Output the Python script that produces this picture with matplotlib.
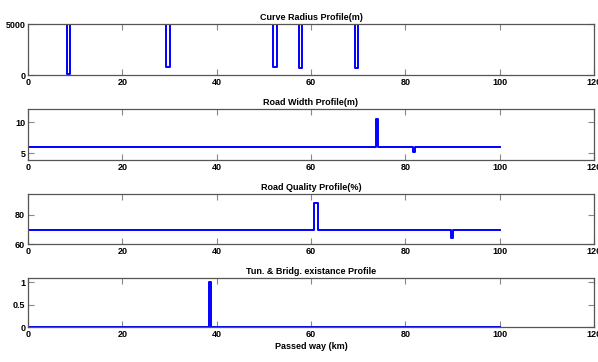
import matplotlib
matplotlib.use("Agg")
import matplotlib.pyplot as plt
import numpy as np

plt.rcParams['font.family'] = ['Liberation Sans Narrow', 'Liberation Sans', 'DejaVu Sans']

# ---- data ----
road_length = 100
# Curve radius: straight sections have large radius (clipped above axis)
straight_radius = 10000
curve_starts = [8.2, 29.3, 51.9, 57.4, 69.4]
curve_ends = [8.9, 30.1, 52.7, 58.2, 70.0]
curve_radii = [100, 800, 800, 700, 700]

width_base = 6
width_starts = [73.8, 81.7]
width_ends = [74.2, 82.0]
width_values = [10.6, 5.2]

quality_base = 70
quality_starts = [60.7, 89.6]
quality_ends = [61.5, 90.2]
quality_values = [88.5, 64.5]

tunnel_base = 0
tunnel_starts = [38.3]
tunnel_ends = [38.7]
tunnel_values = [1]

titles = ["Curve Radius Profile(m)", "Road Width Profile(m)",
          "Road Quality Profile(%)", "Tun. & Bridg. existance Profile"]
xlabel = "Passed way (km)"
xticks = [0, 20, 40, 60, 80, 100, 120]
yticks_list = [[0, 5000], [5, 10], [60, 80], [0, 0.5, 1]]
ylims = [(0, 5000), (3.9, 12.1), (60, 94.1), (0, 1.1)]


def profile(base, starts, ends, values):
    xs = [0]
    ys = [base]
    for s, e, v in zip(starts, ends, values):
        xs += [s, s, e, e]
        ys += [base, v, v, base]
    xs.append(road_length)
    ys.append(base)
    return xs, ys


series = [
    profile(straight_radius, curve_starts, curve_ends, curve_radii),
    profile(width_base, width_starts, width_ends, width_values),
    profile(quality_base, quality_starts, quality_ends, quality_values),
    profile(tunnel_base, tunnel_starts, tunnel_ends, tunnel_values),
]

fig = plt.figure(figsize=(5.98, 3.62), dpi=100)
positions = [
    (0.0468, 0.7928, 0.9465, 0.1409),
    (0.0468, 0.5580, 0.9465, 0.1400),
    (0.0468, 0.3251, 0.9465, 0.1382),
    (0.0468, 0.0958, 0.9465, 0.1362),
]

for i, (pos, (xs, ys)) in enumerate(zip(positions, series)):
    ax = fig.add_axes(pos)
    ax.plot(xs, ys, color='#0000ff', lw=1.4)
    ax.set_xlim(0, 120)
    ax.set_ylim(*ylims[i])
    ax.set_xticks(xticks)
    ax.set_yticks(yticks_list[i])
    ax.set_yticklabels([f"{t:g}" for t in yticks_list[i]])
    ax.tick_params(direction='in', length=4, width=0.8, color='#888888',
                   labelsize=6.5, pad=2, top=True, right=True)
    for sp in ax.spines.values():
        sp.set_color('#555555')
        sp.set_linewidth(0.9)
    ax.set_title(titles[i], fontsize=6.5, pad=3, fontweight='bold')
    for lab in ax.get_xticklabels() + ax.get_yticklabels():
        lab.set_fontweight('bold')
    if i == 3:
        ax.set_xlabel(xlabel, fontsize=6.5, labelpad=2, fontweight='bold')

fig.savefig("out.png", dpi=100)
